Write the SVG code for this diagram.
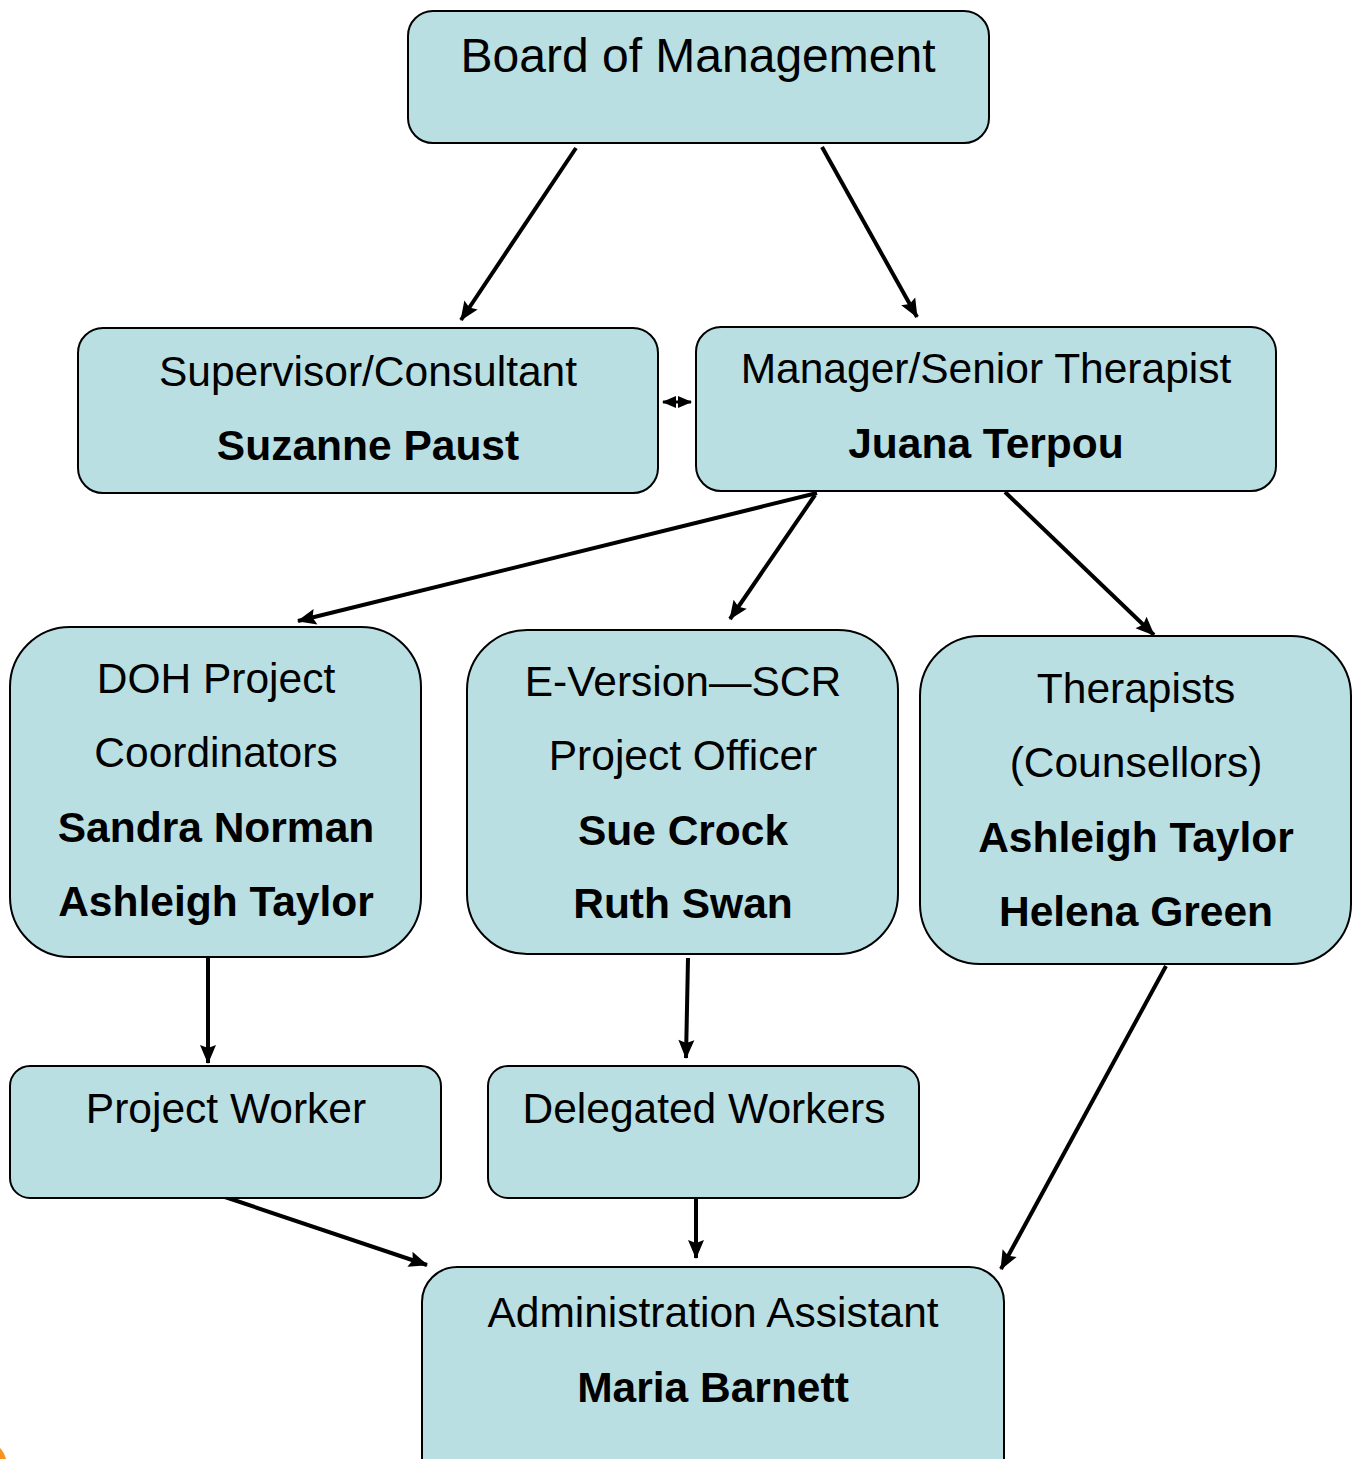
<svg xmlns="http://www.w3.org/2000/svg" width="1357" height="1459" viewBox="0 0 1357 1459">
<style>
.box{fill:#B9DFE3;stroke:#000;stroke-width:2}
.t{font-family:"Liberation Sans",Arial,sans-serif;font-size:42.5px;fill:#000;text-anchor:middle}
.b{font-weight:bold}
.c{stroke:#000;stroke-width:4;fill:none;marker-end:url(#ah)}
</style>
<defs>
<marker id="ah" markerUnits="userSpaceOnUse" markerWidth="22" markerHeight="18" refX="18" refY="8" orient="auto" overflow="visible">
<path d="M0,0 L19,8 L0,16 L3,8 z" fill="#000"/>
</marker>
<marker id="sh" markerUnits="userSpaceOnUse" markerWidth="16" markerHeight="14" refX="13" refY="6" orient="auto-start-reverse">
<path d="M0,0 L14,6 L0,12 z" fill="#000"/>
</marker>
</defs>
<rect x="0" y="0" width="1357" height="1459" fill="#fff"/>
<path d="M0,1448 Q4,1452 6,1459 L0,1459 z" fill="#F7931E"/>
<g id="connectors">
<line class="c" x1="576" y1="148" x2="461" y2="320"/>
<line class="c" x1="822" y1="147" x2="917" y2="317"/>
<line x1="663" y1="402" x2="691" y2="402" stroke="#000" stroke-width="3" marker-start="url(#sh)" marker-end="url(#sh)"/>
<line class="c" x1="817" y1="493" x2="298" y2="621"/>
<line class="c" x1="815" y1="495" x2="730" y2="619"/>
<line class="c" x1="1005" y1="492" x2="1154" y2="635"/>
<line class="c" x1="208" y1="957" x2="208" y2="1063"/>
<line class="c" x1="688" y1="958" x2="686" y2="1058"/>
<line class="c" x1="222" y1="1196" x2="427" y2="1265"/>
<line class="c" x1="696" y1="1199" x2="696" y2="1258"/>
<line class="c" x1="1166" y1="966" x2="1001" y2="1269"/>
</g>
<g id="board">
<rect class="box" x="408" y="11" width="581" height="132" rx="25"/>
<text class="t" x="698" y="72" style="font-size:48px">Board of Management</text>
</g>
<g id="supervisor">
<rect class="box" x="78" y="328" width="580" height="165" rx="25"/>
<text class="t" x="368" y="386">Supervisor/Consultant</text>
<text class="t b" x="368" y="460">Suzanne Paust</text>
</g>
<g id="manager">
<rect class="box" x="696" y="327" width="580" height="164" rx="25"/>
<text class="t" x="986" y="383">Manager/Senior Therapist</text>
<text class="t b" x="986" y="458">Juana Terpou</text>
</g>
<g id="doh">
<rect class="box" x="10" y="627" width="411" height="330" rx="60"/>
<text class="t" x="216" y="693">DOH Project</text>
<text class="t" x="216" y="767">Coordinators</text>
<text class="t b" x="216" y="842">Sandra Norman</text>
<text class="t b" x="216" y="916">Ashleigh Taylor</text>
</g>
<g id="eversion">
<rect class="box" x="467" y="630" width="431" height="324" rx="60"/>
<text class="t" x="683" y="696">E-Version—SCR</text>
<text class="t" x="683" y="770">Project Officer</text>
<text class="t b" x="683" y="845">Sue Crock</text>
<text class="t b" x="683" y="918">Ruth Swan</text>
</g>
<g id="therapists">
<rect class="box" x="920" y="636" width="431" height="328" rx="60"/>
<text class="t" x="1136" y="703">Therapists</text>
<text class="t" x="1136" y="777">(Counsellors)</text>
<text class="t b" x="1136" y="852">Ashleigh Taylor</text>
<text class="t b" x="1136" y="926">Helena Green</text>
</g>
<g id="projectworker">
<rect class="box" x="10" y="1066" width="431" height="132" rx="20"/>
<text class="t" x="226" y="1123">Project Worker</text>
</g>
<g id="delegated">
<rect class="box" x="488" y="1066" width="431" height="132" rx="20"/>
<text class="t" x="704" y="1123">Delegated Workers</text>
</g>
<g id="admin">
<rect class="box" x="422" y="1267" width="582" height="230" rx="35"/>
<text class="t" x="713" y="1327">Administration Assistant</text>
<text class="t b" x="713" y="1402">Maria Barnett</text>
</g>
</svg>
